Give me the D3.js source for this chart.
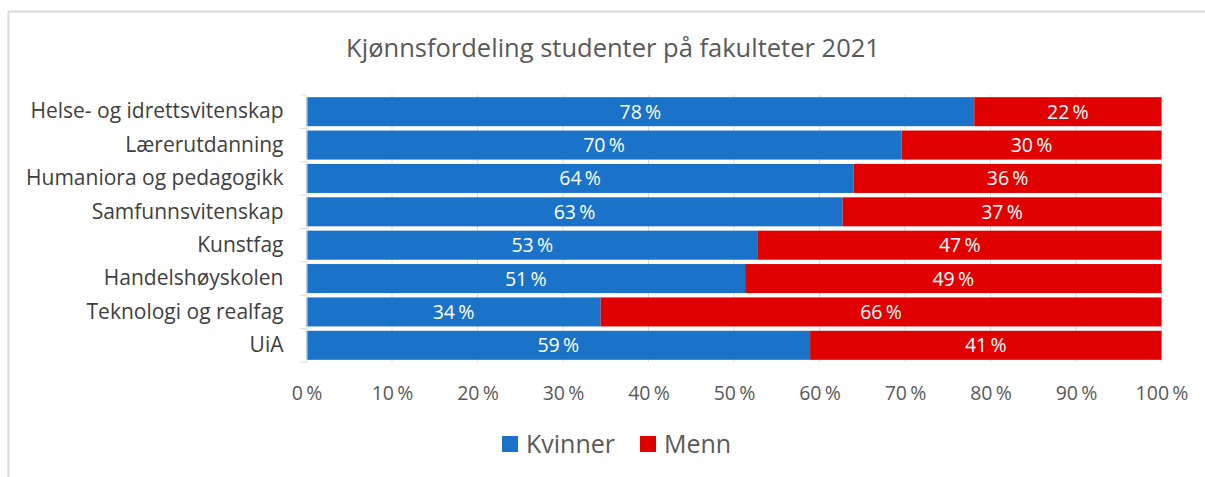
<!DOCTYPE html>
<html lang="no">
  <head>
    <meta charset="UTF-8" />
    <style>
      body { margin: 0; background: #fff; }
      text { font-family: "Open Sans", "Noto Sans", sans-serif; }
    </style>
    <title>kjonnsfordeling</title>
  </head>
  <body>
    <svg width="1205" height="477" id="svg"></svg>
    <script src="https://cdn.jsdelivr.net/npm/d3@7"></script>
    <script>
      // data (share of women / men, in %)
      const categories = [
        "Helse- og idrettsvitenskap",
        "Lærerutdanning",
        "Humaniora og pedagogikk",
        "Samfunnsvitenskap",
        "Kunstfag",
        "Handelshøyskolen",
        "Teknologi og realfag",
        "UiA",
      ];
      const kvinner = [78.1, 69.6, 64.0, 62.7, 52.8, 51.3, 34.4, 58.9];
      const menn = [21.9, 30.4, 36.0, 37.3, 47.2, 48.7, 65.6, 41.1];
      const seriesNames = ["Kvinner", "Menn"];
      const xTicks = [0, 10, 20, 30, 40, 50, 60, 70, 80, 90, 100];
      const title = "Kjønnsfordeling studenter på fakulteter 2021";

      const colors = ["#1a73c8", "#e00000"];

      const svg = d3.select("#svg");

      // outer frame (only left and top edges visible)
      svg.append("path")
        .attr("d", "M8.5,477 V11.5 H1205")
        .attr("fill", "none")
        .attr("stroke", "#d9d9d9")
        .attr("stroke-width", 2);

      const x = d3.scaleLinear().domain([0, 100]).range([306.5, 1161.5]);
      const y = d3.scaleBand().domain(categories).range([95, 362]).paddingInner(0.13).paddingOuter(0.065);

      // gridlines
      svg.append("g")
        .selectAll("line")
        .data(xTicks.slice(1))
        .join("line")
        .attr("x1", (d) => x(d))
        .attr("x2", (d) => x(d))
        .attr("y1", 95)
        .attr("y2", 362)
        .attr("stroke", "#d9d9d9")
        .attr("stroke-width", 1);

      // stacked rows
      const segs = [];
      categories.forEach((c, i) => {
        let acc = 0;
        [kvinner[i], menn[i]].forEach((v, k) => {
          segs.push({ cat: c, k: k, x0: acc, x1: acc + v, v: v });
          acc += v;
        });
      });

      const g = svg.append("g");
      g.selectAll("rect")
        .data(segs)
        .join("rect")
        .attr("x", (d) => x(d.x0))
        .attr("y", (d) => y(d.cat))
        .attr("width", (d) => x(d.x1) - x(d.x0))
        .attr("height", y.bandwidth())
        .attr("fill", (d) => colors[d.k]);

      g.selectAll("text")
        .data(segs)
        .join("text")
        .attr("x", (d) => (x(d.x0) + x(d.x1)) / 2)
        .attr("y", (d) => y(d.cat) + y.bandwidth() / 2)
        .attr("dy", "0.36em")
        .attr("text-anchor", "middle")
        .attr("font-size", 19.5)
        .attr("fill", "#fff")
        .text((d) => Math.round(d.v) + "\u2009%");

      // y axis
      const yAxis = svg.append("g")
        .attr("transform", "translate(306.5,0)")
        .call(d3.axisLeft(y).tickSize(0).tickPadding(23));
      yAxis.select(".domain").attr("stroke", "#d9d9d9");
      yAxis.selectAll("text")
        .attr("font-size", 21)
        .attr("fill", "#404040")
        .style("font-family", "'Open Sans', sans-serif");
      // small ticks at band boundaries
      const bounds = categories.map((c) => y(c) - (y.step() - y.bandwidth()) / 2).concat([362]);
      yAxis.selectAll(".bnd")
        .data(bounds)
        .join("line")
        .attr("class", "bnd")
        .attr("x1", -6)
        .attr("x2", 0)
        .attr("y1", (d) => d)
        .attr("y2", (d) => d)
        .attr("stroke", "#d9d9d9");

      // x axis labels
      const xAxis = svg.append("g")
        .attr("transform", "translate(0,362)")
        .call(d3.axisBottom(x).tickValues(xTicks).tickSize(0).tickPadding(24).tickFormat((d) => d + "\u2009%"));
      xAxis.select(".domain").remove();
      xAxis.selectAll("text")
        .attr("font-size", 19.5)
        .attr("fill", "#595959")
        .style("font-family", "'Open Sans', sans-serif");

      // title
      svg.append("text")
        .attr("x", 613)
        .attr("y", 57)
        .attr("text-anchor", "middle")
        .attr("font-size", 25.5)
        .attr("fill", "#595959")
        .text(title);

      // legend
      const legendX = [502, 640];
      const lg = svg.append("g")
        .selectAll("g")
        .data(seriesNames)
        .join("g")
        .attr("transform", (d, i) => `translate(${legendX[i]},436)`);
      lg.append("rect")
        .attr("width", 16)
        .attr("height", 16)
        .attr("fill", (d, i) => colors[i]);
      lg.append("text")
        .attr("x", 24)
        .attr("y", 8)
        .attr("dy", "0.36em")
        .attr("font-size", 25)
        .attr("fill", "#595959")
        .text((d) => d);
    </script>
  </body>
</html>
